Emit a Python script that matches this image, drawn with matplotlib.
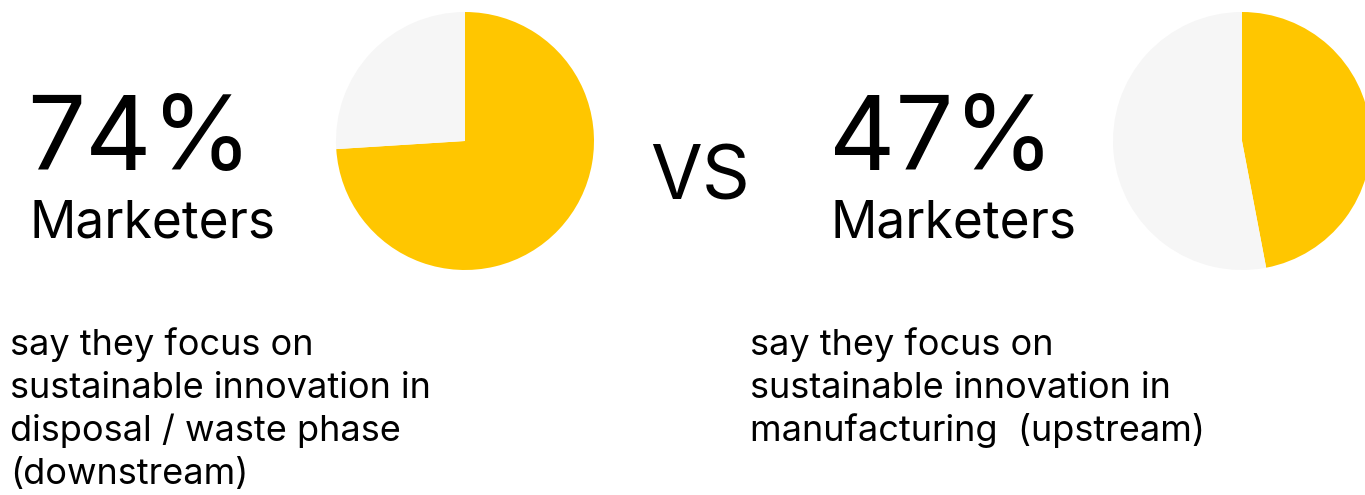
import matplotlib.pyplot as plt

W, H = 1365, 495

shares = [74, 47]
labels = ["74%", "47%"]
captions = [
    "say they focus on\nsustainable innovation in\ndisposal / waste phase\n(downstream)",
    "say they focus on\nsustainable innovation in\nmanufacturing  (upstream)",
]
yellow = "#FFC600"
grey = "#F6F6F6"

plt.rcParams['font.family'] = ['Inter', 'DejaVu Sans']

fig = plt.figure(figsize=(W / 100, H / 100), dpi=100)


def px(x, y):
    return x / W, 1 - y / H


# pies: center x, center y, radius in pixels
pie_pos = [(465, 141, 129), (1242, 141, 129)]
for share, (cx, cy, r) in zip(shares, pie_pos):
    ax = fig.add_axes([(cx - r) / W, (H - cy - r) / H, 2 * r / W, 2 * r / H])
    ax.pie([share, 100 - share], colors=[yellow, grey], startangle=90,
           counterclock=False, radius=1, wedgeprops=dict(linewidth=0))
    ax.set_xlim(-1, 1)
    ax.set_ylim(-1, 1)
    ax.axis('off')

# big numbers and labels
big_x = [27, 829]
cap_x = [10, 750]
for i in range(2):
    fig.text(*px(big_x[i], 170), labels[i], fontsize=74, va='baseline', ha='left')
    fig.text(*px(big_x[i] + 2, 237), "Marketers", fontsize=37, va='baseline', ha='left')
    for j, line in enumerate(captions[i].split("\n")):
        fig.text(*px(cap_x[i], 355 + 43 * j), line, fontsize=26,
                 va='baseline', ha='left')

fig.text(*px(700, 200), "VS", fontsize=54, va='baseline', ha='center')

fig.savefig("out.png", dpi=100)
